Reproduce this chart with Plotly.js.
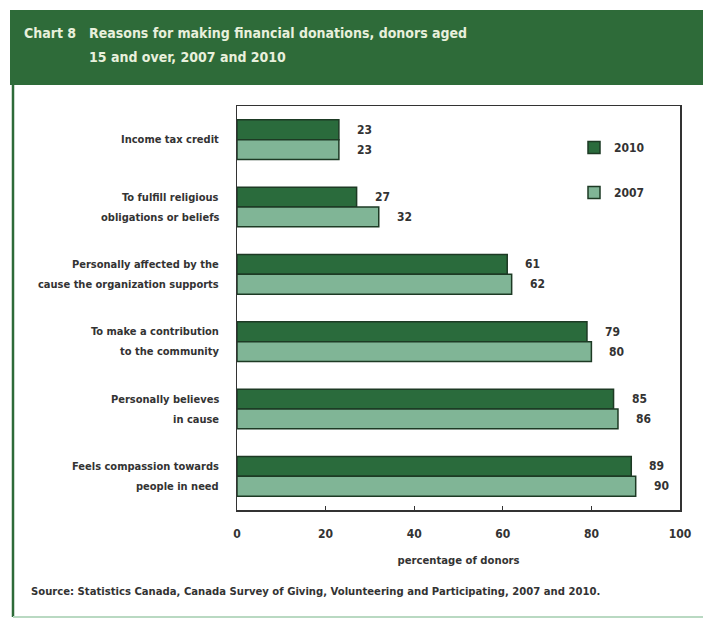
<!DOCTYPE html>
<html>
<head>
<meta charset="utf-8">
<script src="https://cdn.plot.ly/plotly-3.0.1.min.js"></script>
<style>
html,body{margin:0;padding:0;background:#fff;}
#chart{width:703px;height:619px;}
#chart text{font-stretch:condensed;}
</style>
</head>
<body>
<div id="chart"></div>
<script>
// ---- data ----
const categories = [
  "Income tax credit",
  "To fulfill religious<br>obligations or beliefs",
  "Personally affected by the<br>cause the organization supports",
  "To make a contribution<br>to the community",
  "Personally believes<br>in cause",
  "Feels compassion towards<br>people in need"
];
const values2010 = [23, 27, 61, 79, 85, 89];
const values2007 = [23, 32, 62, 80, 86, 90];
const seriesNames = ["2010", "2007"];
const xTicks = [0, 20, 40, 60, 80, 100];

const FONT = "DejaVu Sans Condensed, DejaVu Sans, sans-serif";
const TXT = "#333333";
const DARK = "#2a6b3c";
const LIGHT = "#80b596";
const EDGE = "#1d3a24";
const HEAD = "#2e6b39";

// pixel -> paper helpers (plot area: x 237..680, y 106..510)
const L = 237, R = 680, T = 106, B = 510;
const px = x => (x - L) / (R - L);
const py = y => (B - y) / (B - T);

const traces = [
  {type: "bar", orientation: "h", name: seriesNames[0], y: categories, x: values2010,
   marker: {color: DARK, line: {color: EDGE, width: 1.5}}, legendgroup: "a", hoverinfo: "none"},
  {type: "bar", orientation: "h", name: seriesNames[1], y: categories, x: values2007,
   marker: {color: LIGHT, line: {color: EDGE, width: 1.5}}, legendgroup: "b", hoverinfo: "none"}
];

const annotations = [];
categories.forEach((c, i) => {
  annotations.push({x: values2010[i], y: c, xref: "x", yref: "y", text: String(values2010[i]),
    showarrow: false, xanchor: "left", yanchor: "middle", xshift: 16, yshift: 10,
    font: {family: FONT, size: 12, color: TXT, weight: 700}});
  annotations.push({x: values2007[i], y: c, xref: "x", yref: "y", text: String(values2007[i]),
    showarrow: false, xanchor: "left", yanchor: "middle", xshift: 16, yshift: -10,
    font: {family: FONT, size: 12, color: TXT, weight: 700}});
  // category label lines (wider line spacing than tick labels allow)
  const lines = c.split("<br>");
  lines.forEach((ln, j) => {
    annotations.push({x: 0, y: c, xref: "paper", yref: "y", text: ln, showarrow: false,
      xanchor: "right", yanchor: "middle", xshift: -16, yshift: ((lines.length - 1) / 2 - j) * 20,
      font: {family: FONT, size: 11, color: TXT, weight: 700}});
  });
});
// header title
const TF = {family: FONT, size: 14, color: "#e8f0dc", weight: 700};
annotations.push({xref: "paper", yref: "paper", x: px(22), y: py(33), xanchor: "left", yanchor: "middle",
  text: "Chart 8", showarrow: false, font: TF});
annotations.push({xref: "paper", yref: "paper", x: px(87), y: py(33), xanchor: "left", yanchor: "middle",
  text: "Reasons for making financial donations, donors aged", showarrow: false, font: TF});
annotations.push({xref: "paper", yref: "paper", x: px(87), y: py(57), xanchor: "left", yanchor: "middle",
  text: "15 and over, 2007 and 2010", showarrow: false, font: TF});
// source
annotations.push({xref: "paper", yref: "paper", x: px(29), y: py(591), xanchor: "left", yanchor: "middle",
  text: "Source: Statistics Canada, Canada Survey of Giving, Volunteering and Participating, 2007 and 2010.",
  showarrow: false, font: {family: FONT, size: 11.2, color: TXT, weight: 700}});

const shapes = [
  {type: "rect", xref: "paper", yref: "paper", x0: px(10), x1: px(703), y0: py(85), y1: py(10),
   fillcolor: HEAD, line: {width: 0}, layer: "below"},
  {type: "line", xref: "paper", yref: "paper", x0: px(13), x1: px(13), y0: py(85), y1: py(617),
   line: {color: HEAD, width: 2.5}},
  {type: "line", xref: "paper", yref: "paper", x0: px(13), x1: px(703), y0: py(617), y1: py(617),
   line: {color: "#b9d9c2", width: 2}}
];

const layout = {
  width: 703, height: 619,
  margin: {l: L, r: 703 - R, t: T, b: 619 - B, pad: 0},
  paper_bgcolor: "#ffffff", plot_bgcolor: "#ffffff",
  barmode: "group", bargap: 0.41, bargroupgap: 0,
  showlegend: true,
  legend: {x: px(574), y: py(133), xanchor: "left", yanchor: "top", tracegroupgap: 26,
    traceorder: "grouped", bgcolor: "rgba(0,0,0,0)", itemwidth: 30,
    font: {family: FONT, size: 12, color: TXT, weight: 700}},
  xaxis: {range: [0, 100], tickvals: xTicks, ticktext: xTicks.map(String), ticks: "inside", ticklen: 4,
    tickcolor: "#333", showgrid: false, zeroline: false, showline: true, mirror: true,
    linecolor: "#333", linewidth: 1.5, ticklabelstandoff: 12,
    tickfont: {family: FONT, size: 12, color: TXT, weight: 700},
    title: {text: "percentage of donors", standoff: 16, font: {family: FONT, size: 11.2, color: TXT, weight: 700}}},
  yaxis: {autorange: "reversed", showgrid: false, zeroline: false, showline: true, mirror: true,
    linecolor: "#333", linewidth: 1.5, ticks: "", showticklabels: false},
  annotations: annotations,
  shapes: shapes,
  font: {family: FONT, color: TXT}
};

Plotly.newPlot("chart", traces, layout, {displayModeBar: false, staticPlot: true});
</script>
</body>
</html>
